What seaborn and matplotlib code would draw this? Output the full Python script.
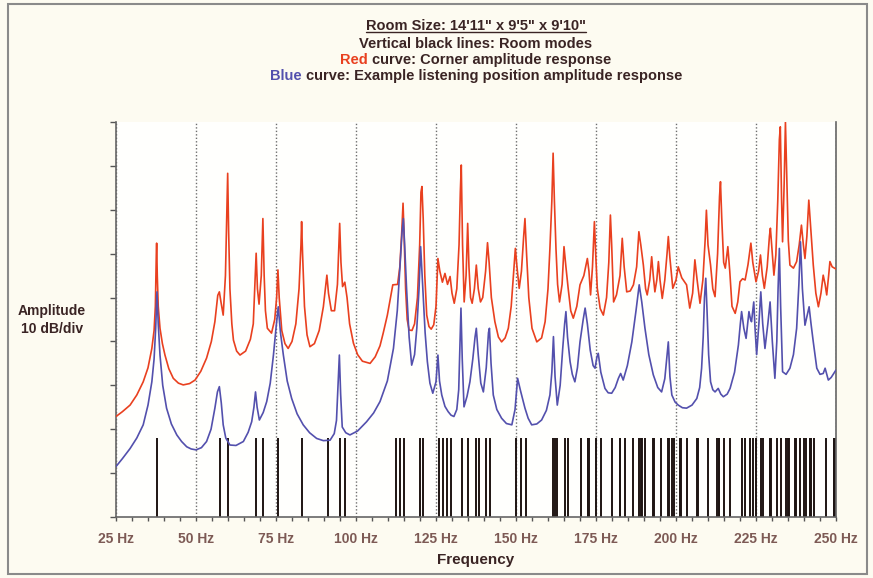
import numpy as np
import seaborn as sns
import matplotlib.pyplot as plt
from matplotlib.patches import Rectangle
from matplotlib.lines import Line2D

mode_freq = [37.88, 57.46, 60.00, 68.82, 70.95, 75.75, 83.07, 91.30, 95.08, 96.64,
             112.43, 113.63, 114.92, 120.00, 121.00, 125.84, 127.33, 128.50, 129.64,
             133.05, 135.06, 137.64, 138.33, 140.76, 141.91, 150.15, 151.51, 153.10,
             161.61, 162.04, 162.96, 165.26, 166.15, 170.41, 172.37, 172.39, 172.79,
             174.97, 176.49, 180.00, 182.52, 182.60, 183.94, 186.41, 188.29, 188.95,
             189.39, 190.16, 192.71, 193.27, 195.29, 197.61, 197.91, 198.66, 199.40,
             201.29, 201.63, 203.57, 206.46, 206.80, 210.03, 212.87, 213.42, 213.55,
             215.00, 216.89, 220.48, 221.52, 223.27, 224.20, 224.86, 226.59, 227.26,
             229.49, 229.50, 229.83, 231.45, 232.93, 234.41, 235.05, 235.28, 237.21,
             237.53, 238.80, 240.00, 240.54, 241.90, 241.97, 242.00, 242.19, 242.97,
             246.78, 249.22, 249.32, 249.67]
mode_height = 18  # dB

# Curva roja: respuesta en la esquina (Hz, dB)
red_points = [
    (25.0, 22.9), (27.0, 24.0), (29.4, 25.5), (31.5, 27.8), (33.5, 30.8), (35.0, 34.0),
    (36.2, 38.4), (36.9, 42.5), (37.3, 48.0), (37.6, 60.0), (37.7, 62.4), (37.9, 55.0),
    (38.2, 48.0), (38.75, 43.0), (39.5, 39.5), (40.3, 36.9), (41.5, 33.8), (42.9, 31.6),
    (44.5, 30.5), (46.0, 30.1), (48.0, 30.4), (49.7, 31.2), (51.5, 33.2), (53.3, 36.2),
    (54.8, 40.0), (55.9, 44.5), (56.8, 50.5), (57.3, 51.3), (57.8, 49.0), (58.5, 46.0),
    (59.2, 55.0), (59.7, 72.0), (59.9, 78.3), (60.2, 65.0), (60.6, 52.0), (61.2, 44.0),
    (61.7, 40.3), (62.7, 37.8), (63.75, 36.9), (65.5, 37.8), (67.0, 40.5), (67.9, 44.0),
    (68.5, 55.0), (68.8, 60.1), (69.2, 52.0), (69.7, 48.5), (70.4, 55.0), (70.9, 68.0),
    (71.3, 55.0), (71.7, 47.0), (72.3, 43.0), (73.6, 41.9), (74.6, 45.0), (75.2, 50.0),
    (75.6, 56.3), (76.0, 50.0), (76.8, 42.5), (77.8, 39.5), (78.8, 38.4), (80.0, 40.0),
    (81.2, 44.0), (82.2, 52.0), (82.8, 62.0), (83.0, 67.3), (83.3, 60.0), (83.9, 48.0),
    (84.7, 41.5), (85.6, 38.8), (87.0, 39.5), (88.5, 42.5), (89.8, 47.9), (90.6, 53.0),
    (90.9, 55.1), (91.4, 51.0), (92.3, 47.0), (93.3, 47.0), (94.2, 53.0), (94.7, 63.0),
    (94.9, 66.9), (95.3, 58.0), (95.8, 52.5), (96.5, 53.5), (97.2, 50.0), (98.0, 44.0),
    (99.2, 39.6), (100.5, 37.0), (102.0, 35.5), (104.4, 35.0), (106.0, 36.5),
    (107.5, 39.0), (108.5, 41.9), (109.8, 46.0), (110.8, 50.0), (111.5, 52.9),
    (113.0, 53.0), (113.7, 57.0), (114.3, 65.0), (114.7, 71.5), (115.0, 65.0),
    (115.5, 52.0), (116.0, 45.0), (116.6, 42.6), (117.5, 42.5), (118.3, 44.0),
    (119.2, 50.0), (119.9, 62.0), (120.3, 74.0), (120.6, 75.3), (121.0, 68.0),
    (121.5, 55.0), (122.1, 46.0), (122.8, 43.4), (123.5, 42.8), (124.3, 43.8),
    (125.0, 48.0), (125.6, 58.9), (126.2, 56.0), (127.0, 53.5), (127.8, 55.5),
    (128.6, 53.0), (129.4, 54.8), (130.0, 51.0), (130.7, 48.7), (131.5, 52.0),
    (132.2, 62.0), (132.6, 74.0), (132.9, 80.2), (133.3, 62.0), (133.8, 49.0),
    (134.4, 55.0), (134.9, 66.9), (135.3, 57.0), (135.8, 50.0), (136.3, 48.7),
    (137.0, 52.0), (137.6, 57.4), (138.2, 52.0), (138.9, 49.0), (139.6, 50.0),
    (140.5, 56.0), (141.1, 62.5), (141.6, 58.0), (142.3, 50.0), (143.4, 44.5),
    (144.5, 41.0), (145.5, 39.9), (146.6, 40.8), (147.6, 43.0), (148.5, 48.0),
    (149.2, 55.0), (149.8, 61.2), (150.3, 57.0), (151.0, 52.1), (151.7, 56.0),
    (152.4, 64.0), (152.8, 68.0), (153.3, 60.0), (154.0, 50.0), (155.0, 43.0),
    (156.5, 39.9), (158.0, 40.8), (159.1, 44.5), (160.0, 52.0), (160.6, 61.2),
    (161.2, 72.0), (161.6, 82.9), (162.0, 72.0), (162.5, 61.0), (163.0, 53.0),
    (163.6, 49.0), (164.4, 53.0), (165.0, 61.6), (165.6, 57.0), (166.3, 52.1),
    (167.1, 47.0), (167.9, 45.3), (169.0, 48.0), (170.0, 52.9), (171.2, 55.0),
    (172.3, 58.9), (172.8, 56.0), (173.3, 50.6), (173.9, 57.0), (174.5, 67.3),
    (174.9, 60.0), (175.4, 52.1), (176.3, 47.5), (177.3, 46.0), (178.3, 50.0),
    (179.0, 58.0), (179.5, 68.8), (179.9, 62.0), (180.5, 49.0), (181.4, 50.6),
    (182.5, 55.0), (183.2, 63.5), (183.8, 57.0), (184.6, 51.3), (185.7, 51.5),
    (186.7, 52.9), (187.7, 57.0), (188.4, 65.0), (189.0, 62.0), (189.8, 57.4),
    (190.5, 52.0), (191.0, 50.6), (191.8, 54.0), (192.4, 59.3), (192.9, 55.0),
    (193.4, 51.3), (194.0, 54.0), (194.5, 58.2), (195.0, 54.0), (195.7, 49.8),
    (196.5, 54.0), (197.2, 60.0), (197.6, 63.9), (198.1, 59.0), (199.0, 52.1),
    (200.0, 54.0), (200.7, 57.0), (201.8, 54.5), (203.3, 52.9), (204.3, 47.6),
    (205.2, 51.0), (205.9, 58.6), (206.6, 54.0), (207.5, 48.7), (208.4, 54.0),
    (209.1, 63.0), (209.5, 69.9), (210.0, 62.0), (210.8, 57.4), (211.5, 52.0),
    (212.2, 50.2), (213.0, 60.0), (213.6, 73.0), (213.9, 76.4), (214.3, 68.0),
    (214.9, 58.0), (215.4, 56.7), (216.2, 61.6), (216.8, 56.0), (217.5, 48.0),
    (218.5, 46.4), (219.3, 49.0), (220.0, 53.6), (220.8, 54.3), (221.6, 54.0),
    (222.5, 57.5), (223.4, 62.4), (224.0, 58.0), (225.0, 53.6), (225.8, 56.0),
    (226.4, 59.7), (227.0, 55.0), (227.6, 52.1), (228.5, 57.0), (229.2, 64.0),
    (229.5, 65.8), (230.0, 61.0), (230.6, 55.1), (231.2, 59.7), (231.8, 72.0),
    (232.3, 86.0), (232.6, 88.9), (233.0, 72.0), (233.3, 62.7), (233.8, 76.0),
    (234.2, 90.0), (234.6, 78.0), (235.1, 63.0), (235.6, 57.4), (236.7, 56.7),
    (237.7, 58.2), (238.5, 62.0), (239.2, 66.5), (239.8, 62.0), (240.3, 58.9),
    (240.9, 64.0), (241.5, 72.2), (242.1, 66.0), (242.9, 57.4), (243.7, 51.0),
    (244.5, 47.9), (245.3, 51.0), (246.0, 55.1), (246.6, 53.0), (247.1, 50.6),
    (247.7, 55.0), (248.1, 58.2), (248.8, 57.0), (250.0, 56.5),
]

# Curva azul: posición de escucha de ejemplo (Hz, dB)
blue_points = [
    (25.0, 11.5), (27.0, 13.3), (29.4, 15.6), (31.5, 18.0), (33.5, 21.0), (35.0, 25.5),
    (36.2, 30.8), (36.9, 36.0), (37.4, 43.0), (37.8, 51.3), (38.2, 44.0), (38.75, 36.9),
    (39.6, 30.0), (40.8, 24.8), (42.3, 21.2), (44.0, 18.7), (45.5, 17.2), (47.1, 16.0),
    (48.5, 15.5), (50.0, 15.3), (51.7, 15.8), (53.3, 17.2), (54.7, 20.0), (55.9, 24.8),
    (56.7, 28.5), (57.3, 29.7), (57.9, 26.0), (58.5, 21.0), (59.3, 18.0), (60.6, 16.4),
    (62.5, 16.3), (64.8, 17.2), (66.3, 19.3), (67.4, 21.7), (68.1, 25.0), (68.6, 28.5),
    (69.1, 25.0), (69.8, 22.1), (71.0, 23.8), (72.1, 26.3), (73.2, 30.5), (74.2, 36.9),
    (75.0, 43.0), (75.7, 47.9), (76.4, 42.0), (77.3, 36.9), (78.5, 31.0), (79.9, 27.0),
    (81.6, 23.5), (83.5, 21.0), (85.5, 19.2), (87.7, 17.9), (89.8, 17.4), (91.9, 17.5),
    (93.2, 19.0), (93.9, 22.0), (94.4, 30.0), (94.8, 36.9), (95.2, 28.0), (95.7, 20.5),
    (96.8, 19.2), (98.1, 18.7), (100.5, 19.6), (103.3, 21.7), (105.5, 23.7),
    (107.5, 26.3), (109.8, 31.0), (111.7, 38.4), (112.9, 47.0), (113.75, 57.4),
    (114.4, 65.0), (114.8, 68.0), (115.2, 62.0), (115.8, 52.1), (116.6, 41.0),
    (117.4, 34.6), (118.3, 37.0), (119.0, 43.0), (119.7, 52.0), (120.2, 61.6),
    (120.6, 56.0), (121.0, 50.6), (121.6, 42.0), (122.3, 35.4), (123.1, 30.5),
    (124.0, 28.2), (125.0, 30.8), (125.6, 36.9), (126.1, 31.0), (126.8, 27.8),
    (127.8, 25.2), (128.8, 24.0), (129.7, 23.2), (130.6, 22.9), (131.5, 24.5),
    (132.1, 29.0), (132.5, 40.0), (132.8, 47.6), (133.2, 36.0), (133.75, 25.1),
    (134.7, 27.5), (135.6, 30.8), (136.5, 36.0), (137.2, 41.0), (137.6, 43.0),
    (138.2, 37.0), (139.0, 30.5), (139.8, 28.5), (140.7, 34.0), (141.4, 42.0),
    (141.7, 43.0), (142.2, 35.0), (142.9, 27.8), (144.0, 24.5), (145.5, 22.5),
    (147.0, 21.3), (148.7, 21.0), (149.7, 24.5), (150.5, 31.6), (151.4, 28.8),
    (152.8, 24.8), (153.8, 22.5), (154.9, 21.0), (156.5, 21.2), (158.0, 22.1),
    (159.5, 24.3), (160.6, 27.8), (161.2, 33.0), (161.7, 41.1), (162.2, 32.0),
    (162.9, 25.5), (163.8, 30.0), (164.6, 38.4), (165.2, 44.0), (165.6, 46.8),
    (166.1, 41.0), (166.9, 35.4), (167.6, 32.5), (168.4, 30.8), (169.2, 34.0),
    (170.0, 39.9), (171.0, 45.0), (171.6, 47.6), (172.3, 44.0), (173.2, 38.0),
    (174.1, 34.5), (174.7, 33.9), (175.3, 36.5), (175.7, 37.3), (176.5, 33.0),
    (177.8, 29.3), (178.8, 28.3), (179.9, 28.2), (181.0, 29.5), (182.0, 31.6),
    (182.7, 32.7), (183.5, 31.2), (184.8, 34.5), (186.2, 39.9), (187.5, 47.0),
    (188.5, 52.9), (189.3, 49.0), (190.3, 43.0), (191.5, 37.0), (192.9, 32.4),
    (194.3, 29.5), (195.5, 28.5), (196.5, 31.5), (197.2, 37.0), (197.6, 39.9),
    (198.1, 32.0), (198.7, 27.8), (199.7, 26.2), (200.7, 25.5), (202.0, 24.9),
    (203.3, 24.8), (205.0, 25.5), (206.5, 27.0), (207.4, 29.5), (208.0, 33.9),
    (208.5, 41.0), (208.9, 50.0), (209.3, 54.4), (209.7, 47.0), (210.2, 37.0),
    (210.8, 30.8), (211.5, 29.0), (212.2, 28.5), (213.2, 29.3), (214.0, 28.0),
    (214.8, 27.4), (216.0, 28.0), (216.9, 29.3), (218.3, 33.0), (219.5, 39.2),
    (220.1, 44.0), (220.5, 46.8), (221.2, 43.0), (221.9, 40.7), (222.4, 44.0),
    (222.8, 46.8), (223.3, 45.0), (223.6, 44.5), (224.0, 47.0), (224.3, 49.0),
    (224.7, 43.0), (225.2, 37.0), (225.9, 44.0), (226.5, 51.3), (227.1, 44.0),
    (227.8, 38.4), (228.7, 44.0), (229.4, 49.0), (230.1, 40.0), (230.9, 31.6),
    (231.5, 40.0), (231.9, 52.0), (232.3, 61.2), (232.7, 48.0), (233.3, 33.1),
    (234.4, 32.5), (235.6, 33.9), (236.7, 37.0), (237.7, 43.0), (238.4, 53.0),
    (238.9, 62.7), (239.5, 52.0), (240.3, 43.7), (241.0, 46.0), (241.6, 47.9),
    (242.2, 44.0), (242.9, 39.9), (244.0, 33.9), (245.0, 32.5), (246.0, 32.7),
    (246.6, 33.9), (247.6, 31.2), (248.5, 31.8), (250.0, 33.5),
]
red_freq, red_db = zip(*red_points)
blue_freq, blue_db = zip(*blue_points)

x_ticks = [25, 50, 75, 100, 125, 150, 175, 200, 225, 250]
x_labels = [f"{v} Hz" for v in x_ticks]

title_lines = ["Room Size: 14'11\" x 9'5\" x 9'10\"",
               "Vertical black lines: Room modes"]
red_line = ("Red", " curve: Corner amplitude response")
blue_line = ("Blue", " curve: Example listening position amplitude response")

W, H = 873, 578
bg = "#fdfbf1"
txt = "#3a2424"
red_c = "#e9401f"
blue_c = "#5350ad"

sns.set_theme(style="white")
plt.rcParams['font.family'] = ['Liberation Sans', 'DejaVu Sans']
plt.rcParams['font.weight'] = 'bold'

fig = plt.figure(figsize=(W / 100, H / 100), dpi=100, facecolor=bg)
ax = fig.add_axes([116 / W, 1 - 517 / H, 720 / W, 395 / H])
ax.set_facecolor("#fffffd")

# líneas de modos
ax.vlines(mode_freq, 0, mode_height, color="#1e1412", lw=1.4, zorder=2)

sns.lineplot(x=list(red_freq), y=list(red_db), ax=ax, color=red_c, lw=1.2,
             estimator=None, sort=False, zorder=3)
sns.lineplot(x=list(blue_freq), y=list(blue_db), ax=ax, color=blue_c, lw=1.2,
             estimator=None, sort=False, zorder=4)

ax.set_xlim(25, 250)
ax.set_ylim(0, 90)
ax.set_xticks(x_ticks)
ax.set_xticklabels(x_labels)
ax.set_xticks(np.arange(25, 251, 5), minor=True)
ax.set_yticks(np.arange(0, 91, 10))
ax.set_yticklabels([])
ax.tick_params(axis="x", which="both", direction="out", length=3, width=1,
               color="#555555", labelsize=10, labelcolor="#7d5a55", pad=8,
               bottom=True)
ax.tick_params(axis="y", direction="out", length=4, width=1, color="#555555",
               left=True)
for lbl in ax.get_xticklabels():
    lbl.set_fontweight("bold")

ax.xaxis.grid(True, which="major", linestyle=(0, (1, 1.5)), color="#6f6f6f", lw=1)
ax.yaxis.grid(False)
ax.spines["top"].set_visible(False)
for s in ["left", "bottom", "right"]:
    ax.spines[s].set_color("#666666")
    ax.spines[s].set_linewidth(1.2)

ax.set_xlabel("Frequency", fontsize=11, fontweight="bold", color=txt, labelpad=5)
ax.set_ylabel("")
fig.text(52 / W, 1 - 320 / H, "Amplitude\n10 dB/div", ha="center", va="center",
         fontsize=10, fontweight="bold", color=txt, linespacing=1.4)

# títulos
renderer = fig.canvas.get_renderer()
xc = 476
tprops = dict(fontsize=10.5, fontweight="bold")


def width_of(s):
    t = fig.text(0, 0, s, **tprops)
    w = t.get_window_extent(renderer).width
    t.remove()
    return w


t1 = fig.text(xc / W, 1 - 30 / H, title_lines[0], ha="center", va="baseline",
              color=txt, **tprops)
bb = t1.get_window_extent(renderer)
fig.lines.append(Line2D([bb.x0 / W, bb.x1 / W], [1 - 32 / H, 1 - 32 / H],
                        transform=fig.transFigure, color=txt, lw=1))
fig.text(xc / W, 1 - 48 / H, title_lines[1], ha="center", va="baseline",
         color=txt, **tprops)

for (first, rest), col, yb in [(red_line, red_c, 64), (blue_line, blue_c, 80)]:
    full_w = width_of(first + rest)
    rest_w = width_of(rest.strip())
    left = xc - full_w / 2
    fig.text(left / W, 1 - yb / H, first, ha="left", va="baseline", color=col, **tprops)
    fig.text((left + full_w - rest_w) / W, 1 - yb / H, rest.strip(), ha="left",
             va="baseline", color=txt, **tprops)

# marco exterior
fig.patches.append(Rectangle((8 / W, 4 / H), 859 / W, 570 / H, fill=False,
                             edgecolor="#8a8a8a", lw=1.5, transform=fig.transFigure))

fig.savefig("out.png", dpi=100, facecolor=bg)
